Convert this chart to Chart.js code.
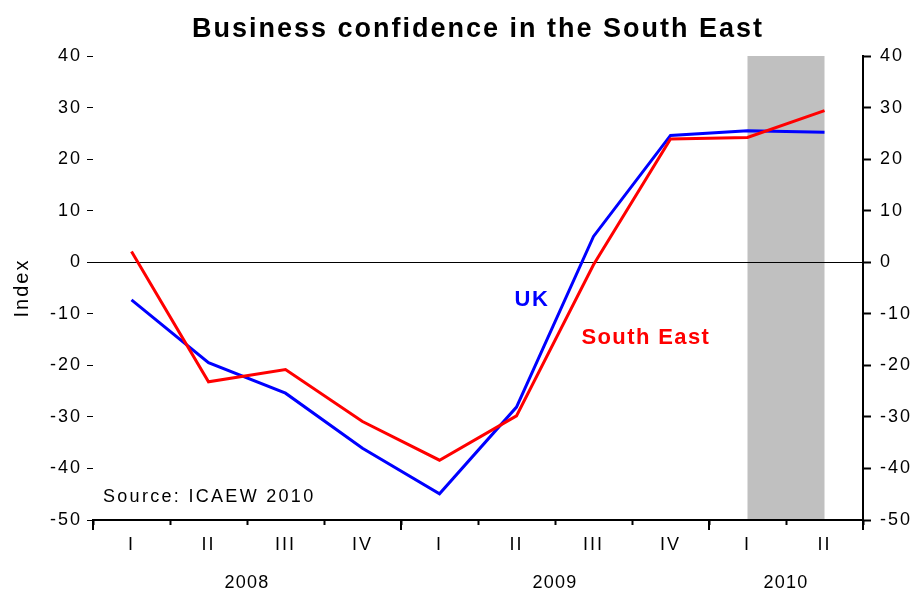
<!DOCTYPE html>
<html>
<head>
<meta charset="utf-8">
<script src="https://cdn.jsdelivr.net/npm/chart.js@4"></script>
<style>
  html, body { margin: 0; padding: 0; background: #fff; }
  #wrap { width: 914px; height: 594px; }
</style>
</head>
<body>
<div id="wrap"><canvas id="lineChart" width="914" height="594"></canvas></div>
<script>
// quarters along the bottom, years below them
const quarters = ['I', 'II', 'III', 'IV', 'I', 'II', 'III', 'IV', 'I', 'II'];
const years = ['2008', '2009', '2010'];
const yearStart = [0, 4, 8];
const yearEnd = [3, 7, 9];

const ukValues = [-7.3, -19.5, -25.4, -36.1, -44.9, -28.1, 5.0, 24.6, 25.5, 25.2];
const southEastValues = [2.1, -23.2, -20.8, -30.9, -38.4, -29.8, -0.5, 23.9, 24.2, 29.4];

const yTicks = [40, 30, 20, 10, 0, -10, -20, -30, -40, -50];

const FONT = 'Arial, "Liberation Sans", sans-serif';

// grey band for the latest quarters (also sets the wide text spacing)
const shadePlugin = {
	id: 'shade',
	beforeDraw(chart) {
		const { ctx, chartArea, scales } = chart;
		ctx.letterSpacing = '2px';
		const x1 = scales.x.getPixelForValue(8);
		const x2 = scales.x.getPixelForValue(9);
		ctx.save();
		ctx.fillStyle = '#c0c0c0';
		ctx.fillRect(x1, chartArea.top, x2 - x1, chartArea.bottom - chartArea.top);
		ctx.restore();
	},
};

// year labels, longer ticks at year boundaries, series names, source note
const extrasPlugin = {
	id: 'extras',
	afterDraw(chart) {
		const { ctx, chartArea, scales } = chart;
		const x = scales.x;
		const y = scales.y;
		const half = (x.getPixelForValue(1) - x.getPixelForValue(0)) / 2;
		ctx.save();
		ctx.strokeStyle = '#000';
		ctx.lineWidth = 2;
		const edges = [x.getPixelForValue(0) - half, x.getPixelForValue(3) + half, x.getPixelForValue(7) + half, x.getPixelForValue(9) + half];
		edges.forEach((px) => {
			ctx.beginPath();
			ctx.moveTo(px, chartArea.bottom);
			ctx.lineTo(px, chartArea.bottom + 10);
			ctx.stroke();
		});

		ctx.fillStyle = '#000';
		ctx.font = '18px ' + FONT;
		ctx.letterSpacing = '1.2px';
		ctx.textAlign = 'center';
		ctx.textBaseline = 'middle';
		years.forEach((yr, i) => {
			const cx = (x.getPixelForValue(yearStart[i]) + x.getPixelForValue(yearEnd[i])) / 2;
			ctx.fillText(yr, cx, 583);
		});

		ctx.letterSpacing = '2.3px';
		ctx.textAlign = 'left';
		ctx.fillText('Source: ICAEW 2010', chartArea.left + 10, y.getPixelForValue(-45.5));

		ctx.font = 'bold 22px ' + FONT;
		ctx.letterSpacing = '1.4px';
		ctx.textAlign = 'center';
		ctx.fillStyle = '#0000ff';
		ctx.fillText('UK', x.getPixelForValue(5.2), y.getPixelForValue(-7.4));
		ctx.fillStyle = '#ff0000';
		ctx.fillText('South East', x.getPixelForValue(6.68), y.getPixelForValue(-14.6));
		ctx.restore();
	},
};

const canvas = document.getElementById('lineChart');

const myChart = new Chart(canvas, {
	type: 'line',
	data: {
		labels: quarters,
		datasets: [
			{
				label: 'South East',
				data: southEastValues,
				borderColor: '#ff0000',
				borderWidth: 3,
				pointRadius: 0,
				tension: 0,
				yAxisID: 'y',
			},
			{
				label: 'UK',
				data: ukValues,
				borderColor: '#0000ff',
				borderWidth: 3,
				pointRadius: 0,
				tension: 0,
				yAxisID: 'y',
			},
		],
	},
	options: {
		responsive: false,
		animation: false,
		layout: { padding: 0 },
		plugins: {
			legend: { display: false },
			tooltip: { enabled: false },
			title: {
				display: true,
				fullSize: false,
				text: 'Business confidence in the South East',
				color: '#000',
				font: { family: FONT, size: 27, weight: 'bold', lineHeight: 1.2 },
				padding: { top: 13, bottom: 10.6 },
			},
		},
		scales: {
			x: {
				type: 'category',
				offset: true,
				grid: {
					offset: true,
					drawOnChartArea: false,
					drawTicks: true,
					tickLength: 5,
					tickColor: '#000',
					tickWidth: 2,
				},
				border: { display: true, color: '#000', width: 2 },
				ticks: {
					color: '#000',
					padding: 9,
					maxRotation: 0,
					autoSkip: false,
					font: { family: FONT, size: 18 },
				},
				afterFit(scale) {
					scale.height = 74;
				},
			},
			y: {
				position: 'left',
				min: -50,
				max: 40,
				afterBuildTicks(scale) {
					scale.ticks = yTicks.map((v) => ({ value: v }));
				},
				grid: {
					drawOnChartArea: true,
					color: (c) => (c.tick && c.tick.value === 0 ? '#000' : 'rgba(0,0,0,0)'),
					lineWidth: 1,
					drawTicks: true,
					tickLength: 6,
					tickColor: '#000',
					tickWidth: 1,
				},
				border: { display: false },
				ticks: {
					color: '#000',
					padding: 5,
					font: { family: FONT, size: 18 },
				},
				title: {
					display: true,
					text: 'Index',
					color: '#000',
					font: { family: FONT, size: 20 },
					padding: { top: 10, bottom: 0 },
				},
				afterFit(scale) {
					scale.width = 93;
				},
			},
			y2: {
				position: 'right',
				min: -50,
				max: 40,
				afterBuildTicks(scale) {
					scale.ticks = yTicks.map((v) => ({ value: v }));
				},
				grid: {
					drawOnChartArea: false,
					drawTicks: true,
					tickLength: 8,
					tickColor: '#000',
					tickWidth: 2,
				},
				border: { display: true, color: '#000', width: 2 },
				ticks: {
					color: '#000',
					padding: 9,
					font: { family: FONT, size: 18 },
				},
				afterFit(scale) {
					scale.width = 51;
				},
			},
		},
	},
	plugins: [shadePlugin, extrasPlugin],
});
</script>
</body>
</html>
